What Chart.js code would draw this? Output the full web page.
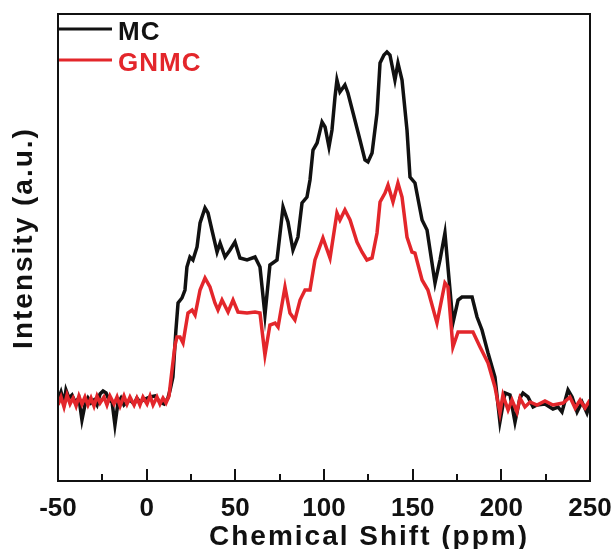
<!DOCTYPE html>
<html>
<head>
<meta charset="utf-8">
<script src="https://cdn.jsdelivr.net/npm/chart.js@4.4.0/dist/chart.umd.min.js"></script>
<style>
  html, body { margin: 0; padding: 0; background: #fff; }
  #wrap { width: 616px; height: 549px; }
</style>
</head>
<body>
<div id="wrap"><canvas id="nmrChart" width="616" height="549"></canvas></div>
<script>
// --- DATA ---
const seriesNames = ["MC", "GNMC"];
const xTitle = "Chemical Shift (ppm)";
const yTitle = "Intensity (a.u.)";

// MC (black)
const mcShift = [
  -50.0, -48.3, -46.6, -45.5, -43.8, -42.1, -40.4, -38.2, -36.5, -34.8,
  -33.1, -31.4, -29.7, -28.0, -26.3, -24.6, -22.9, -21.2, -19.5, -17.9,
  -16.2, -14.5, -12.8, -11.1, -9.4, -7.1, -5.5, -3.8, -0.9, 1.9,
  4.7, 7.5, 9.8, 12.0, 13.2, 14.8, 16.5, 17.7, 19.9, 21.6,
  22.7, 24.4, 26.1, 28.4, 30.1, 32.9, 34.6, 36.8, 39.7, 41.4,
  44.2, 47.0, 49.8, 52.6, 56.6, 61.1, 63.9, 66.7, 69.5, 73.5,
  76.9, 79.7, 82.5, 85.3, 87.6, 90.4, 92.1, 93.8, 96.1, 98.9,
  100.6, 102.8, 104.5, 106.2, 107.3, 109.0, 111.8, 113.5, 116.4, 120.3,
  123.1, 124.8, 127.1, 129.9, 131.6, 133.8, 135.5, 137.2, 140.0, 141.7,
  144.0, 146.8, 148.5, 151.3, 155.3, 158.1, 162.6, 165.4, 168.2, 169.9,
  172.7, 175.6, 177.8, 183.5, 186.3, 189.1, 192.5, 196.4, 199.2, 202.1,
  204.9, 207.7, 210.5, 212.2, 215.0, 217.9, 220.1, 224.6, 229.1, 232.0,
  234.2, 237.6, 239.9, 242.7, 245.5, 248.3, 250.0
];
const mcIntensity = [
  81, 89, 78, 91, 83, 86, 79, 83, 61, 76,
  83, 78, 81, 76, 87, 90, 88, 81, 79, 56,
  78, 83, 76, 79, 81, 77, 83, 79, 82, 84,
  85, 79, 77, 83, 91, 104, 151, 178, 183, 191,
  214, 224, 221, 234, 258, 273, 268, 251, 229, 238,
  224, 231, 239, 223, 221, 224, 214, 166, 216, 221,
  274, 259, 231, 244, 278, 284, 301, 331, 338, 359,
  354, 334, 351, 384, 401, 389, 396, 388, 368, 341,
  321, 319, 328, 368, 418, 426, 429, 426, 401, 418,
  401, 351, 304, 298, 261, 251, 198, 221, 248, 214,
  158, 181, 184, 184, 164, 151, 128, 104, 59, 88,
  86, 59, 83, 88, 84, 74, 76, 77, 72, 74,
  69, 91, 84, 69, 79, 68, 78
];

// GNMC (red)
const gnmcShift = [
  -50.0, -48.3, -46.6, -44.9, -43.2, -41.5, -39.8, -38.2, -36.5, -34.8,
  -33.1, -31.4, -29.7, -28.0, -26.3, -24.1, -22.4, -20.7, -18.4, -16.7,
  -15.0, -12.8, -11.1, -9.4, -7.1, -5.5, -3.8, -2.1, 0.2, 1.9,
  3.6, 5.8, 7.5, 9.2, 10.9, 12.6, 14.3, 16.0, 17.1, 18.8,
  20.5, 23.3, 25.6, 27.3, 30.1, 32.9, 35.7, 38.5, 40.2, 42.5,
  45.9, 48.7, 51.5, 56.6, 61.1, 63.9, 66.7, 69.5, 72.4, 74.1,
  78.0, 80.8, 83.6, 86.5, 89.3, 92.1, 94.9, 99.4, 103.4, 107.3,
  109.0, 111.8, 114.7, 118.6, 121.4, 124.2, 127.1, 129.9, 131.6, 134.4,
  136.1, 138.9, 141.7, 144.0, 146.8, 149.6, 151.3, 155.3, 158.6, 163.7,
  168.2, 169.9, 172.7, 175.6, 184.0, 188.0, 192.5, 196.4, 199.2, 200.9,
  203.8, 206.0, 208.8, 210.5, 213.3, 216.2, 220.1, 224.6, 229.1, 234.8,
  238.7, 241.6, 244.4, 247.2, 250.0
];
const gnmcIntensity = [
  76, 84, 74, 86, 77, 83, 75, 85, 77, 84,
  76, 83, 75, 85, 78, 84, 76, 85, 77, 84,
  75, 85, 77, 84, 76, 83, 76, 84, 77, 85,
  76, 84, 77, 83, 78, 85, 111, 136, 144, 144,
  138, 168, 171, 166, 191, 203, 194, 178, 171, 181,
  169, 181, 169, 168, 169, 168, 126, 156, 158, 154,
  194, 168, 161, 181, 191, 191, 221, 243, 223, 268,
  261, 271, 261, 239, 229, 221, 223, 248, 279, 288,
  296, 279, 298, 284, 244, 229, 228, 201, 191, 158,
  198, 194, 134, 149, 149, 134, 118, 94, 68, 86,
  71, 81, 69, 83, 74, 79, 76, 80, 76, 78,
  84, 73, 81, 73, 81
];

const xTicks = [-50, 0, 50, 100, 150, 200, 250];

const FONT = "'Liberation Sans', Arial, Helvetica, sans-serif";
const BLACK = "#111111";
const RED = "#e3262b";

function toPoints(xs, ys) {
  return xs.map((x, i) => ({ x: x, y: ys[i] }));
}

// --- PLUGINS ---
// frame round the plot + inward ticks on the bottom axis
const framePlugin = {
  id: "frame",
  afterDraw(chart) {
    const ctx = chart.ctx;
    const a = chart.chartArea;
    const xs = chart.scales.x;
    ctx.save();
    ctx.strokeStyle = BLACK;
    ctx.lineWidth = 2;
    ctx.strokeRect(a.left, a.top, a.right - a.left, a.bottom - a.top);
    for (let v = -50; v <= 250; v += 25) {
      const px = Math.round(xs.getPixelForValue(v));
      const len = (v % 50 === 0) ? 12 : 7;
      ctx.beginPath();
      ctx.moveTo(px, a.bottom);
      ctx.lineTo(px, a.bottom - len);
      ctx.stroke();
    }
    ctx.restore();
  }
};

// axis titles, drawn by hand: the original sits off-centre and is spaced out
const axisTitles = {
  id: "axisTitles",
  afterDraw(chart) {
    const ctx = chart.ctx;
    ctx.save();
    ctx.fillStyle = BLACK;
    ctx.font = "bold 28px " + FONT;
    ctx.letterSpacing = "2px";
    ctx.textAlign = "center";
    ctx.textBaseline = "alphabetic";
    ctx.fillText(xTitle, 369, 545);
    ctx.translate(32, 238);
    ctx.rotate(-Math.PI / 2);
    ctx.fillText(yTitle, 0, 0);
    ctx.restore();
  }
};

// legend in the top-left corner, line starting on the axis
const cornerLegend = {
  id: "cornerLegend",
  afterDatasetsDraw(chart) {
    const ctx = chart.ctx;
    const a = chart.chartArea;
    const rows = [29, 60];
    ctx.save();
    ctx.font = "bold 26px " + FONT;
    ctx.letterSpacing = "1px";
    ctx.textBaseline = "middle";
    ctx.textAlign = "left";
    chart.data.datasets.forEach((ds, i) => {
      const y = a.top + rows[i] - 14;
      ctx.strokeStyle = ds.borderColor;
      ctx.lineWidth = 3;
      ctx.beginPath();
      ctx.moveTo(a.left, y);
      ctx.lineTo(a.left + 54, y);
      ctx.stroke();
      ctx.fillStyle = ds.borderColor;
      ctx.fillText(ds.label, a.left + 60, y + 4);
    });
    ctx.restore();
  }
};

// --- CHART ---
const ctx = document.getElementById("nmrChart").getContext("2d");
new Chart(ctx, {
  type: "line",
  data: {
    datasets: [
      {
        label: seriesNames[0],
        data: toPoints(mcShift, mcIntensity),
        borderColor: BLACK,
        borderWidth: 3.5,
        pointRadius: 0,
        tension: 0,
        order: 1
      },
      {
        label: seriesNames[1],
        data: toPoints(gnmcShift, gnmcIntensity),
        borderColor: RED,
        borderWidth: 3.5,
        pointRadius: 0,
        tension: 0,
        order: 0
      }
    ]
  },
  options: {
    responsive: false,
    animation: false,
    layout: { padding: { top: 14, right: 26, left: 0, bottom: 0 } },
    plugins: { legend: { display: false }, tooltip: { enabled: false } },
    scales: {
      x: {
        type: "linear",
        min: -50,
        max: 250,
        afterBuildTicks(scale) {
          scale.ticks = xTicks.map(v => ({ value: v }));
        },
        afterFit(scale) {
          scale.height = 68;
          scale.paddingLeft = 0;
          scale.paddingRight = 0;
        },
        grid: { display: false, drawTicks: false },
        border: { display: false },
        ticks: {
          color: BLACK,
          padding: 12,
          maxRotation: 0,
          font: { family: FONT, size: 26, weight: "bold" }
        }
      },
      y: {
        min: 0,
        max: 467,
        afterFit(scale) { scale.width = 58; },
        grid: { display: false, drawTicks: false },
        border: { display: false },
        ticks: { display: false }
      }
    }
  },
  plugins: [framePlugin, axisTitles, cornerLegend]
});
</script>
</body>
</html>
